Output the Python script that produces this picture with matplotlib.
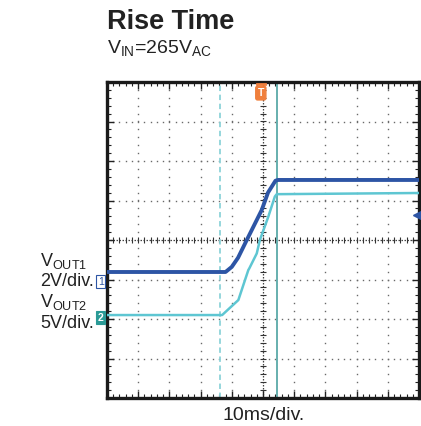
import matplotlib
matplotlib.use("Agg")
import matplotlib.pyplot as plt
import numpy as np

plt.rcParams['font.family'] = ['Liberation Sans', 'DejaVu Sans']
plt.rcParams['mathtext.default'] = 'regular'

# Data (in scope divisions: x 0..10, y -4..4)
t_vout1 = [0, 3.80, 4.00, 4.20, 4.48, 4.96, 5.16, 5.40, 5.48, 10]
v_vout1 = [-0.81, -0.81, -0.68, -0.45, 0.00, 0.76, 1.20, 1.50, 1.52, 1.52]
t_vout2 = [0, 3.69, 4.21, 4.53, 4.56, 4.80, 4.90, 5.17, 5.38, 5.44, 10]
v_vout2 = [-1.90, -1.90, -1.52, -0.76, -0.72, -0.34, 0.00, 0.59, 1.10, 1.16, 1.19]
cursor_dashed_x = 3.62
cursor_solid_x = 5.45
trigger_x = 4.93
ch1_level = -1.06
ch2_level = -1.97
trig_level = 0.63

title = "Rise Time"
subtitle = r"V$_{IN}$=265V$_{AC}$"
xlabel = "10ms/div."
ch_labels = [r"V$_{OUT1}$", "2V/div.", r"V$_{OUT2}$", "5V/div."]

W, H = 421, 426
fig = plt.figure(figsize=(W/100, H/100), dpi=100)
ax = fig.add_axes([107/W, 28/H, 312/W, 316/H])
ax.set_xlim(0, 10)
ax.set_ylim(-4, 4)

grid_c = '#6a6a6a'
# dotted grid
for gx in range(1, 10):
    if gx == 5:
        continue
    ys = np.arange(-4, 4.01, 0.2)
    ax.plot(np.full_like(ys, gx), ys, ls='none', marker='s', ms=1.0, color=grid_c, mew=0, zorder=1)
for gy in range(-3, 4):
    if gy == 0:
        continue
    xs = np.arange(0, 10.01, 0.2)
    ax.plot(xs, np.full_like(xs, gy), ls='none', marker='s', ms=1.0, color=grid_c, mew=0, zorder=1)
# center crosshair
ax.plot([0, 10], [0, 0], color='#444444', lw=0.9, ls=(0, (1.2, 1.2)), zorder=1)
ax.plot([5, 5], [-4, 4], color='#444444', lw=0.9, ls=(0, (1.2, 1.2)), zorder=1)
xs = np.arange(0, 10.01, 0.2)
ax.plot(xs, np.zeros_like(xs), ls='none', marker='|', ms=4, mew=0.8, color='#333333', zorder=1)
ys = np.arange(-4, 4.01, 0.2)
ax.plot(np.full_like(ys, 5), ys, ls='none', marker='_', ms=4, mew=0.8, color='#333333', zorder=1)

# cursors
ax.axvline(cursor_dashed_x, color='#8ed3d9', lw=1.3, ls=(0, (3, 2)), zorder=2)
ax.axvline(cursor_solid_x, color='#5aa9a8', lw=1.3, zorder=2)

# traces
ax.plot(t_vout2, v_vout2, color='#5ec6d2', lw=1.8, zorder=3)
ax.plot(t_vout1, v_vout1, color='#2d55a5', lw=2.8, zorder=4)

# frame
for s in ax.spines.values():
    s.set_linewidth(2.4)
    s.set_color('#1a1a1a')
ax.set_xticks(range(0, 11))
ax.set_yticks(range(-4, 5))
ax.set_xticks(np.arange(0, 10.01, 0.2), minor=True)
ax.set_yticks(np.arange(-4, 4.01, 0.2), minor=True)
ax.tick_params(which='both', direction='in', top=True, right=True,
               labelbottom=False, labelleft=False, color='#222222')
ax.tick_params(which='major', length=5, width=1)
ax.tick_params(which='minor', length=3, width=0.8)

# trigger marker (top)
ax.annotate('T', xy=(trigger_x, 3.72), xycoords='data', ha='center', va='center',
            fontsize=7.5, fontweight='bold', color='white', annotation_clip=False,
            bbox=dict(boxstyle='round,pad=0.18', fc='#f07f3c', ec='#f07f3c'), zorder=6)
ax.plot([trigger_x - 0.12, trigger_x + 0.12], [3.96, 3.96], color='#f07f3c', lw=2, zorder=6, clip_on=False)
# trigger level arrow (right)
ax.plot([10 - 0.06], [trig_level], marker='<', ms=5.5, color='#2d55a5', zorder=6, clip_on=False)

# channel markers (left)
ax.text(-0.2, ch1_level, '1', ha='center', va='center', fontsize=7.5, color='#2d55a5',
        bbox=dict(boxstyle='square,pad=0.15', fc='white', ec='#2d55a5', lw=0.8), zorder=6)
ax.text(-0.2, ch2_level, '2', ha='center', va='center', fontsize=7.5, color='white', fontweight='bold',
        bbox=dict(boxstyle='square,pad=0.15', fc='#2a9a96', ec='#2a9a96', lw=0.8), zorder=6)

# texts
tc = '#222222'
fig.text(107/W, 1 - 22/H, title, fontsize=19.5, fontweight='bold', ha='left', va='center', color=tc)
fig.text(107/W, 1 - 48/H, subtitle, fontsize=14, ha='left', va='center', color=tc)
fig.text(264/W, 1 - 415/H, xlabel, fontsize=14, ha='center', va='center', color=tc)
label_y = [261, 282, 302, 324]
for lbl, yy in zip(ch_labels, label_y):
    fig.text(40/W, 1 - yy/H, lbl, fontsize=13, ha='left', va='center', color=tc)

fig.savefig('out.png', dpi=100)
